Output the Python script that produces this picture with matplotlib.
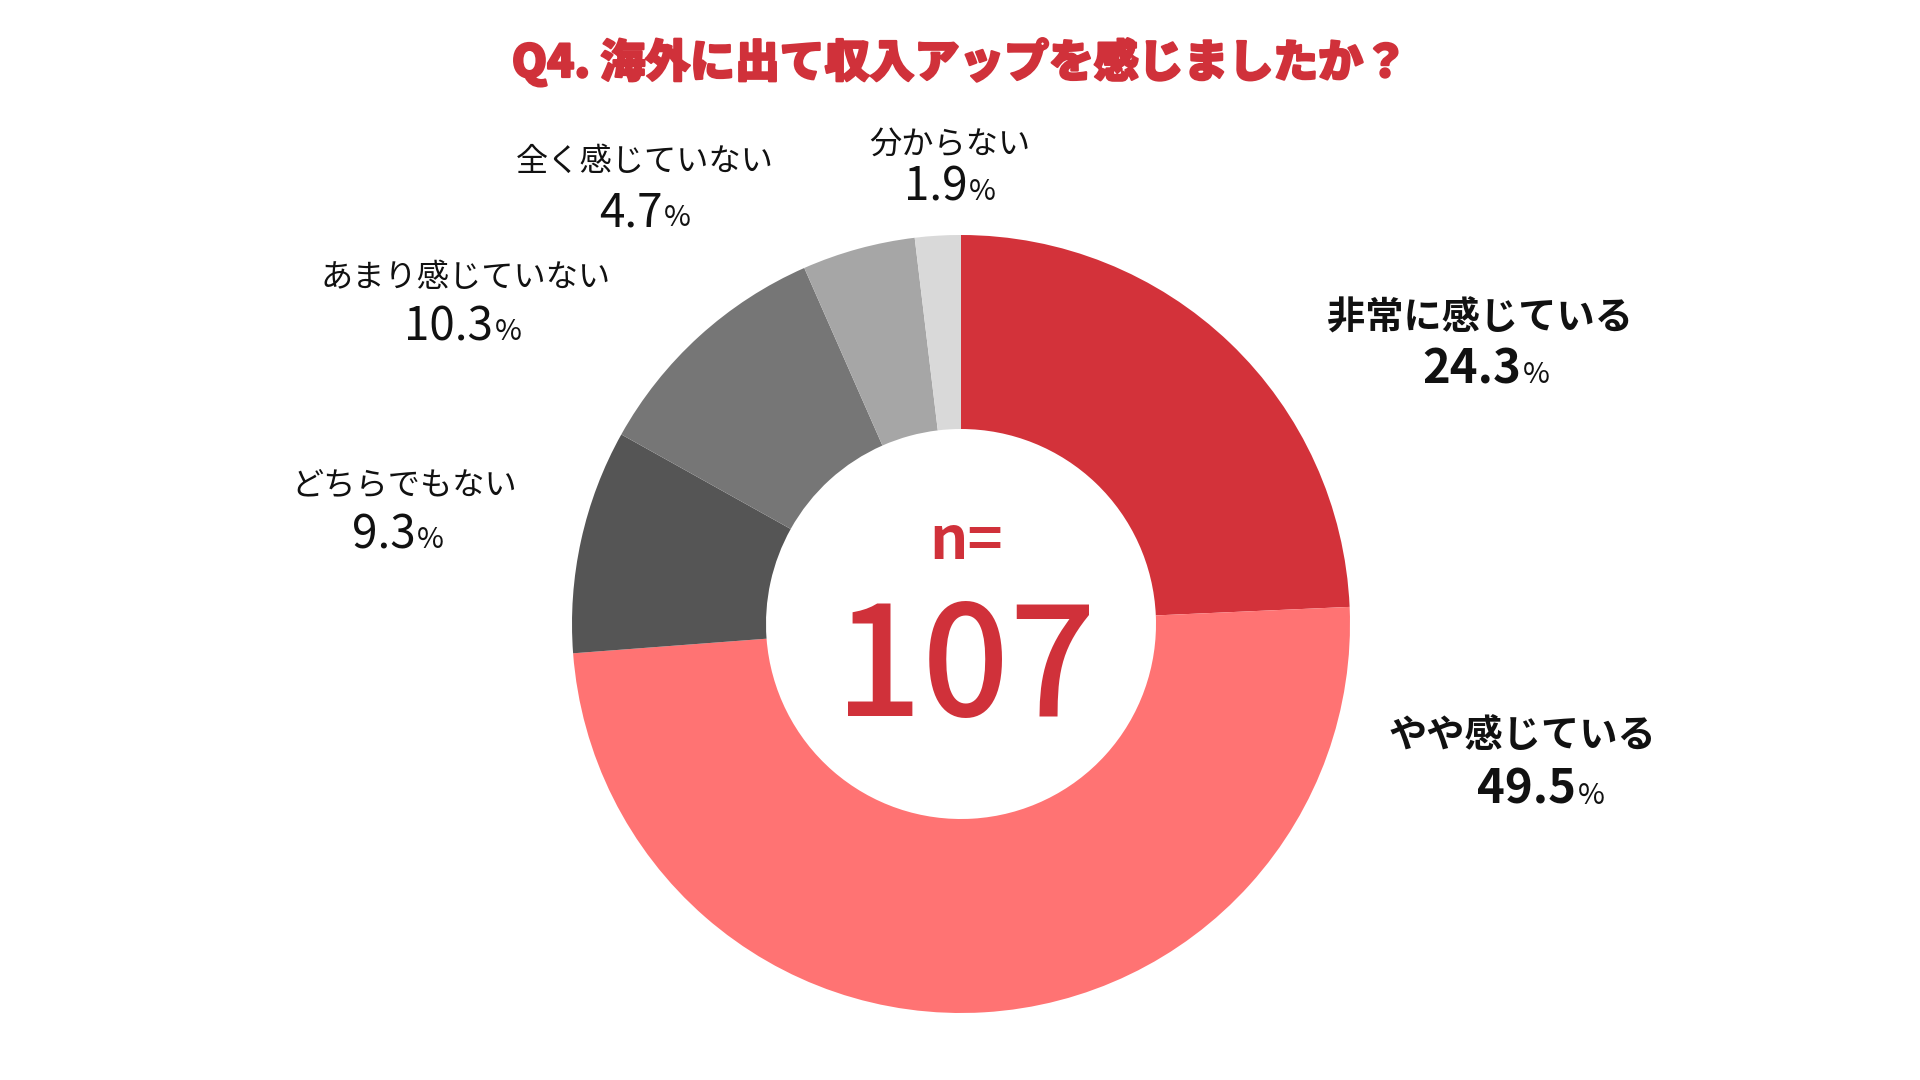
import matplotlib
matplotlib.use("Agg")
import matplotlib.pyplot as plt
import matplotlib.patheffects as pe
from matplotlib.offsetbox import TextArea, HPacker, AnnotationBbox

plt.rcParams['font.family'] = ['Noto Sans CJK JP', 'DejaVu Sans']

# data
title = "Q4. 海外に出て収入アップを感じましたか？"
labels = ["非常に感じている", "やや感じている", "どちらでもない",
          "あまり感じていない", "全く感じていない", "分からない"]
values = [24.3, 49.5, 9.3, 10.3, 4.7, 1.9]
colors = ["#D3323A", "#FF7373", "#555555", "#767676", "#A6A6A6", "#D9D9D9"]
n_total = 107

# label anchor points in pixels (x, y from top): name, then value
name_pos = [(1480, 318), (1522, 736), (404, 486), (466, 278), (645, 162), (950, 145)]
val_pos = [(1486, 369), (1541, 790), (398, 535), (463, 327), (645, 213), (950, 187)]
bold_lab = [True, True, False, False, False, False]

W, H = 1920, 1080
fig = plt.figure(figsize=(19.2, 10.8), dpi=100)
ax = fig.add_axes([0, 0, 1, 1])

cx, cy, r_out = 961, 624, 389
ax.pie(values, colors=colors, startangle=90, counterclock=False,
       center=(cx, H - cy), radius=r_out,
       wedgeprops=dict(width=r_out - 195, linewidth=0))
ax.set_xlim(0, W)
ax.set_ylim(0, H)
ax.set_aspect('auto')
ax.axis('off')

# title drawn a touch heavier than plain bold
ax.text(W / 2, H - 62, title, ha='center', va='center', fontsize=32.3,
        fontweight='heavy', color='#D0313A',
        path_effects=[pe.withStroke(linewidth=1.6, foreground='#D0313A')])

for lab, val, (nx, ny), (vx, vy), b in zip(labels, values, name_pos, val_pos, bold_lab):
    w = 'bold' if b else 'normal'
    ax.text(nx, H - ny, lab, ha='center', va='center', fontsize=27.5 if b else 23.2,
            fontweight=w, color='#111111')
    num = TextArea(f"{val:.1f}", textprops=dict(fontsize=34 if b else 33, fontweight=w,
                                                color='#111111'))
    pct = TextArea("%", textprops=dict(fontsize=21, color='#111111'))
    box = HPacker(children=[num, pct], align='baseline', pad=0, sep=1)
    ab = AnnotationBbox(box, (vx, H - vy), xycoords='data', frameon=False,
                        box_alignment=(0.5, 0.5))
    ax.add_artist(ab)

ax.text(cx + 5, H - 542, "n=", ha='center', va='center', fontsize=43,
        fontweight='bold', color='#D0313A')
ax.text(cx + 5, H - 672, str(n_total), ha='center', va='center', fontsize=110,
        fontweight='medium', color='#D0313A')

fig.savefig("out.png", dpi=100)
